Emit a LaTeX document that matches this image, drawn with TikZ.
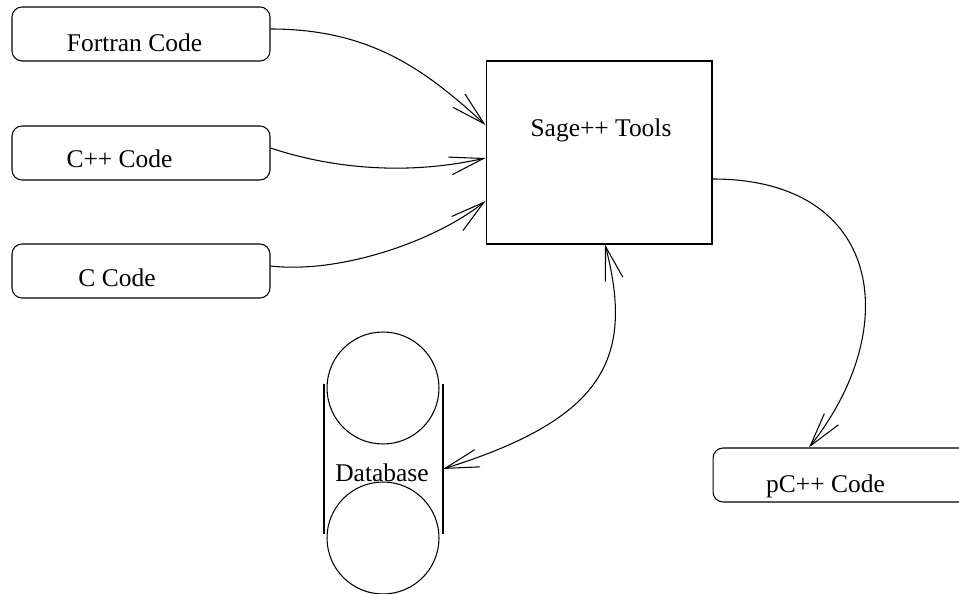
\documentclass[tikz,border=0pt]{standalone}
\usepackage{fontspec}
\setmainfont{Liberation Serif}
\usetikzlibrary{arrows.meta}
\tikzset{
  codebox/.style={draw, rounded corners=0.2cm, minimum width=5.16cm, minimum height=1.08cm, inner sep=0pt},
  codetext/.style={anchor=base, inner sep=0pt, font=\fontsize{14.5}{17}\selectfont},
  flow/.style={-{Straight Barb[length=0.68cm,width=0.36cm]}},
  twoway/.style={{Straight Barb[length=0.68cm,width=0.36cm]}-{Straight Barb[length=0.68cm,width=0.36cm]}},
}
\begin{document}
\begin{tikzpicture}[x=0.02cm, y=-0.02cm, line width=0.6pt]
\useasboundingbox (0,0) rectangle (959,594);
\clip (0,0) rectangle (959,594);
% Source boxes
\foreach \n/\y/\x/\b/\t in {fortran/34/134.5/52/Fortran Code, cpp/153/119.5/168/C++ Code, c/271/117/287/C Code} {
  \node[codebox] (\n) at (141,\y) {};
  \node[codetext] (\n-text) at (\x,\b) {\t};
}
% Tools
\node[draw, minimum width=4.52cm, minimum height=3.66cm] (sage) at (599,152.5) {};
\node[codetext] (sage-text) at (601,137) {Sage++ Tools};
% Output box (runs past the right edge)
\node[codebox] (pcpp) at (842,475) {};
\node[codetext] (pcpp-text) at (825.5,492) {pC++ Code};
% Database
\node[draw, circle, minimum size=2.24cm, inner sep=0pt] (dbtop) at (383,388) {};
\node[draw, circle, minimum size=2.24cm, inner sep=0pt] (dbbot) at (383,538) {};
\draw (324,384) -- (324,534);
\draw (443,384) -- (443,534);
\coordinate (dbport) at (443,469);
\node[codetext] (db-text) at (382,481) {Database};
% Arrows into the tools
\draw[flow] ([yshift=0.1cm]fortran.east) .. controls +(100,0) and +(-60,-55) .. ([yshift=0.55cm]sage.west);
\draw[flow] ([yshift=0.1cm]cpp.east) .. controls +(60,20) and +(-80,18) .. ([yshift=-0.11cm]sage.west);
\draw[flow] ([yshift=0.1cm]c.east) .. controls +(70,8) and +(-50,40) .. ([yshift=-0.97cm]sage.west);
% Arrows out
\draw[flow] ([yshift=-0.53cm]sage.east) .. controls +(170,0) and +(95,-120) .. ([xshift=-0.66cm]pcpp.north);
\draw[twoway] ([xshift=0.12cm]sage.south) .. controls +(30,115) and +(160,-50) .. (dbport);
\end{tikzpicture}
\end{document}
